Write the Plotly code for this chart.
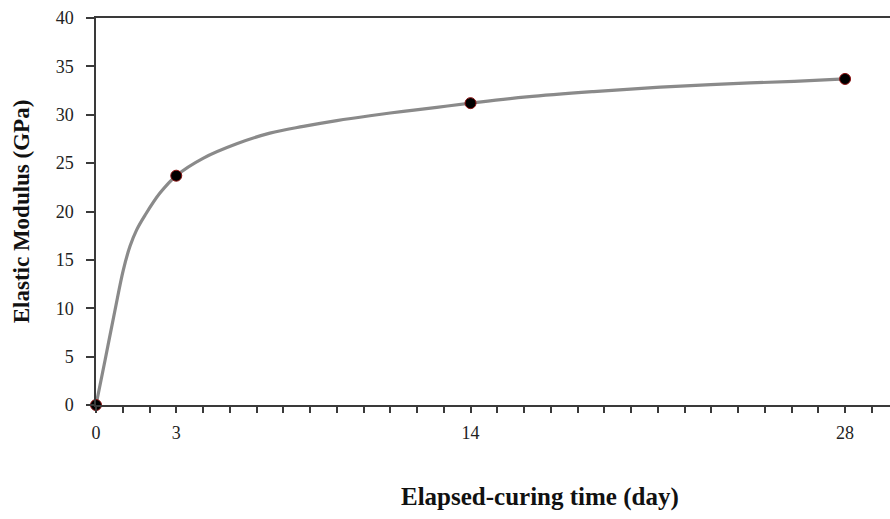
import plotly.graph_objects as go

# Measured elastic modulus at each curing age
days = [0, 3, 14, 28]
modulus = [0.0, 23.7, 31.2, 33.7]

# Fitted trend curve through the measurements
curve_days = [0, 0.34, 0.71, 1.02, 1.27, 1.52, 1.83, 2.39, 3.0, 4.0, 5.26, 6.5, 7.75,
              9.0, 10.24, 11.49, 12.74, 14.0, 16.1, 18.6, 21.1, 23.6, 26.1, 28.0]
curve_modulus = [0.0, 4.65, 9.8, 13.95, 16.4, 18.1, 19.6, 21.9, 23.7, 25.5, 27.0, 28.1, 28.8,
                 29.4, 29.9, 30.35, 30.77, 31.2, 31.85, 32.4, 32.85, 33.2, 33.45, 33.7]

x_ticks = list(range(0, 30))
x_labels = {0: "0", 3: "3", 14: "14", 28: "28"}
x_ticktext = [x_labels.get(v, "") for v in x_ticks]
y_ticks = [0, 5, 10, 15, 20, 25, 30, 35, 40]

axis_color = "#3a3a3a"
serif = "Liberation Serif, Times New Roman, serif"

fig = go.Figure()
fig.add_trace(go.Scatter(
    x=curve_days, y=curve_modulus, mode="lines",
    line=dict(color="#8a8a8a", width=3.2, shape="spline", smoothing=1.0),
    hoverinfo="skip", showlegend=False,
))
fig.add_trace(go.Scatter(
    x=days, y=modulus, mode="markers",
    marker=dict(color="#000000", size=11, line=dict(color="#8b1010", width=1)),
    showlegend=False, cliponaxis=False,
))

fig.update_layout(
    width=890, height=519,
    margin=dict(l=96, r=0, t=18, b=114),
    paper_bgcolor="white", plot_bgcolor="white",
    font=dict(family=serif, size=18, color="#222222"),
    xaxis=dict(
        range=[0, 29.68], tickmode="array", tickvals=x_ticks, ticktext=x_ticktext,
        ticks="outside", ticklen=6, tickwidth=1.5, tickcolor=axis_color,
        showline=True, linecolor=axis_color, linewidth=1.5, mirror=True,
        showgrid=False, zeroline=False, tickfont=dict(size=18),
        ticklabelstandoff=5,
    ),
    yaxis=dict(
        range=[0, 40], tickmode="array", tickvals=y_ticks,
        ticks="outside", ticklen=8, tickwidth=1.5, tickcolor=axis_color,
        showline=True, linecolor=axis_color, linewidth=1.5,
        showgrid=False, zeroline=False, tickfont=dict(size=18),
        ticklabelstandoff=9,
        title=dict(text="<b>Elastic Modulus (GPa)</b>", font=dict(size=23, color="#111111"),
                   standoff=20),
    ),
    annotations=[dict(
        text="<b>Elapsed-curing time (day)</b>", xref="paper", yref="paper",
        x=0.559, y=-0.238, xanchor="center", yanchor="middle", showarrow=False,
        font=dict(size=25, color="#111111", family=serif),
    )],
)

fig.write_html("out.html")
